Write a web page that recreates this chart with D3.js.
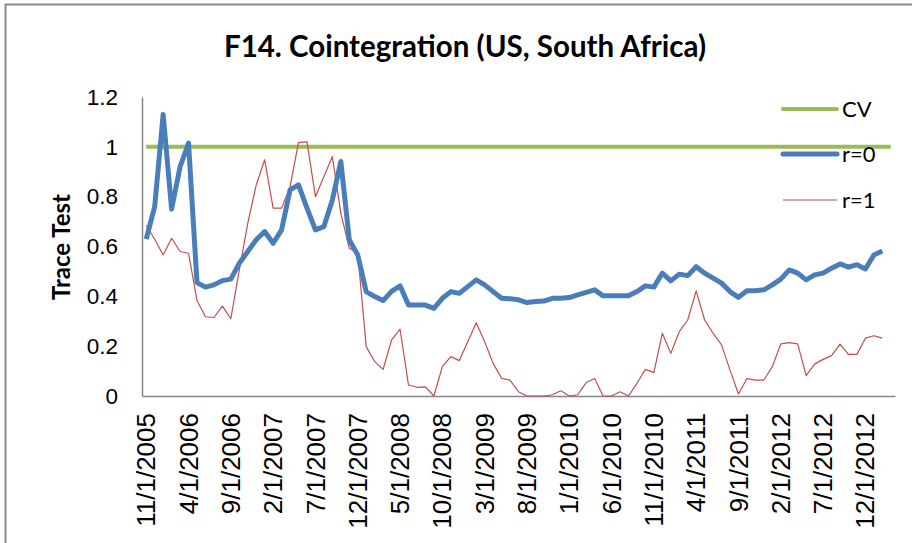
<!DOCTYPE html>
<html>
<head>
<meta charset="utf-8">
<script src="https://cdn.jsdelivr.net/npm/d3@7"></script>
<style>
  body { margin: 0; background: #fff; }
  svg { display: block; font-family: Lato, "Open Sans", sans-serif; }
</style>
</head>
<body>
<div id="chart"></div>
<script>
// monthly categories 11/1/2005 .. 2/1/2013
const months = d3.timeMonth.range(new Date(2005, 10, 1), new Date(2013, 2, 2));
const fmt = d => `${d.getMonth() + 1}/1/${d.getFullYear()}`;
const categories = months.map(fmt);

const tickLabels = ['11/1/2005', '4/1/2006', '9/1/2006', '2/1/2007', '7/1/2007', '12/1/2007',
  '5/1/2008', '10/1/2008', '3/1/2009', '8/1/2009', '1/1/2010', '6/1/2010', '11/1/2010',
  '4/1/2011', '9/1/2011', '2/1/2012', '7/1/2012', '12/1/2012'];
const yTicks = [0, 0.2, 0.4, 0.6, 0.8, 1, 1.2];

const cv = 1;
const r0 = [0.63, 0.76, 1.13, 0.75, 0.92, 1.015, 0.455, 0.437, 0.446, 0.463,
  0.469, 0.533, 0.58, 0.627, 0.66, 0.613, 0.667, 0.827, 0.847, 0.754,
  0.667, 0.68, 0.787, 0.941, 0.627, 0.566, 0.419, 0.399, 0.383, 0.42,
  0.442, 0.365, 0.365, 0.365, 0.352, 0.392, 0.419, 0.412, 0.439, 0.466,
  0.446, 0.419, 0.392, 0.39, 0.386, 0.375, 0.379, 0.381, 0.392, 0.392,
  0.395, 0.406, 0.416, 0.426, 0.402, 0.402, 0.402, 0.402, 0.419, 0.442,
  0.437, 0.493, 0.462, 0.489, 0.483, 0.519, 0.493, 0.473, 0.453, 0.419,
  0.396, 0.422, 0.422, 0.426, 0.446, 0.469, 0.506, 0.493, 0.466, 0.486,
  0.493, 0.513, 0.53, 0.517, 0.527, 0.51, 0.566, 0.582];
const r1 = [0.685, 0.629, 0.566, 0.633, 0.58, 0.573, 0.383, 0.318, 0.315, 0.361,
  0.31, 0.506, 0.693, 0.847, 0.948, 0.754, 0.754, 0.84, 1.017, 1.02,
  0.80, 0.881, 0.961, 0.734, 0.593, 0.573, 0.198, 0.138, 0.107, 0.225,
  0.268, 0.044, 0.035, 0.037, 0, 0.118, 0.158, 0.142, 0.218, 0.294,
  0.218, 0.131, 0.071, 0.064, 0.017, 0, 0, 0, 0.005, 0.021,
  0, 0.005, 0.054, 0.07, 0, 0, 0.017, 0, 0.051, 0.107,
  0.094, 0.252, 0.171, 0.258, 0.305, 0.422, 0.305, 0.252, 0.205, 0.104,
  0.008, 0.07, 0.064, 0.064, 0.118, 0.209, 0.214, 0.209, 0.082, 0.128,
  0.147, 0.162, 0.208, 0.167, 0.167, 0.232, 0.242, 0.232];

const width = 912, height = 543;
const plot = { left: 142, right: 895, top: 97, bottom: 396 };

const svg = d3.select('#chart').append('svg')
  .attr('width', width)
  .attr('height', height);

// outer chart border (right/bottom edges fall outside the picture)
svg.append('rect')
  .attr('x', 5.5).attr('y', 4.5)
  .attr('width', 920).attr('height', 560)
  .attr('fill', 'none')
  .attr('stroke', '#8c8c8c')
  .attr('stroke-width', 2);

svg.append('text')
  .attr('x', 465).attr('y', 57)
  .attr('text-anchor', 'middle')
  .attr('font-weight', 'bold')
  .attr('font-size', 29.5)
  .attr('fill', '#000')
  .text('F14. Cointegration (US, South Africa)');

const x = d3.scaleBand().domain(categories).range([plot.left, plot.right]);
const y = d3.scaleLinear().domain([0, 1.2]).range([plot.bottom, plot.top]);
const cx = c => x(c) + x.bandwidth() / 2;

// y axis
const yAxis = svg.append('g')
  .attr('transform', `translate(${plot.left},0)`)
  .call(d3.axisLeft(y).tickValues(yTicks).tickSize(0).tickPadding(24)
    .tickFormat(d => d3.format('')(+d.toFixed(1))));
yAxis.select('.domain').attr('stroke', '#868686').attr('stroke-width', 1.5);
yAxis.selectAll('text').attr('font-size', 22.5).attr('fill', '#000').attr('font-family', null);

// x axis
const xAxis = svg.append('g')
  .attr('transform', `translate(0,${plot.bottom})`)
  .call(d3.axisBottom(x).tickValues(tickLabels).tickSize(0).tickPadding(0));
xAxis.select('.domain').attr('stroke', '#868686').attr('stroke-width', 1.5);
xAxis.selectAll('text')
  .attr('font-size', 26)
  .attr('fill', '#000')
  .attr('font-family', null)
  .attr('text-anchor', 'end')
  .attr('transform', 'rotate(-90)')
  .attr('x', -17)
  .attr('y', 0)
  .attr('dy', '0.35em');

svg.append('text')
  .attr('transform', 'translate(70,247) rotate(-90)')
  .attr('text-anchor', 'middle')
  .attr('font-weight', 'bold')
  .attr('font-size', 24)
  .text('Trace Test');

const line = d3.line()
  .x((d, i) => cx(categories[i]))
  .y(d => y(d));

svg.append('path')
  .datum(categories.map(() => cv))
  .attr('d', line)
  .attr('fill', 'none')
  .attr('stroke', '#9bbb59')
  .attr('stroke-width', 4);

svg.append('path')
  .datum(r1)
  .attr('d', line)
  .attr('fill', 'none')
  .attr('stroke', '#c0504d')
  .attr('stroke-width', 1.2)
  .attr('stroke-linejoin', 'round');

svg.append('path')
  .datum(r0)
  .attr('d', line)
  .attr('fill', 'none')
  .attr('stroke', '#4a7ebb')
  .attr('stroke-width', 5)
  .attr('stroke-linejoin', 'round');

// legend
const legend = [
  { name: 'CV', color: '#9bbb59', w: 4, y: 109 },
  { name: 'r=0', color: '#4a7ebb', w: 5, y: 154 },
  { name: 'r=1', color: '#c0504d', w: 1.2, y: 200 }
];
const lg = svg.append('g').selectAll('g').data(legend).enter().append('g')
  .attr('transform', d => `translate(0,${d.y})`);
lg.append('line')
  .attr('x1', 783).attr('x2', 837)
  .attr('stroke', d => d.color)
  .attr('stroke-width', d => d.w)
  .attr('stroke-linecap', d => d.w > 2 ? 'round' : 'butt');
lg.append('text')
  .attr('x', 842).attr('dy', '0.35em')
  .attr('font-size', 22)
  .text(d => d.name);
</script>
</body>
</html>
